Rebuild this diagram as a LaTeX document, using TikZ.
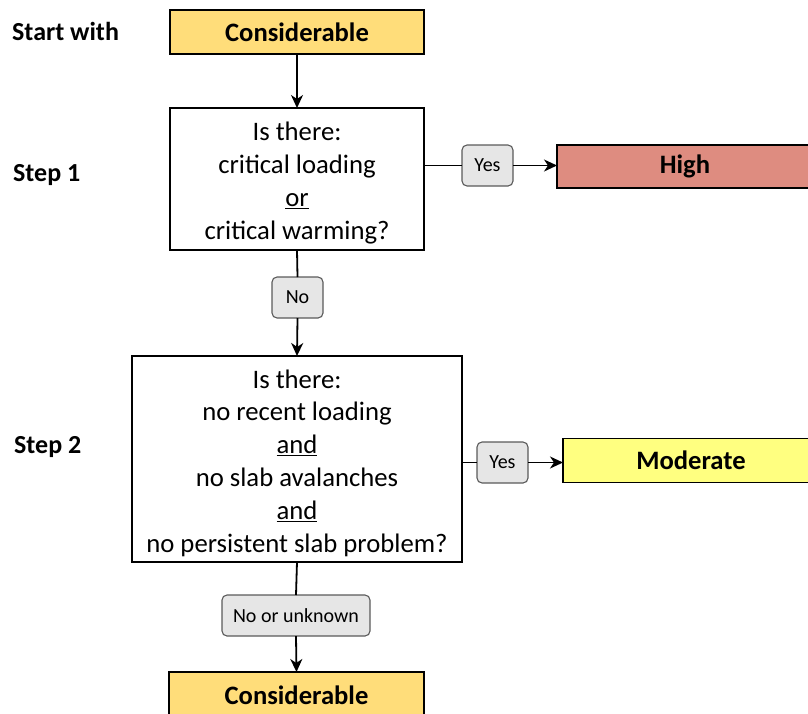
\documentclass[tikz,border=0pt]{standalone}
\usepackage{fontspec}
\setmainfont{Carlito}
\usetikzlibrary{arrows.meta}
\definecolor{considcol}{RGB}{255,221,122}
\definecolor{highcol}{RGB}{222,140,128}
\definecolor{modcol}{RGB}{255,255,128}
\definecolor{lblfill}{RGB}{230,230,230}
\definecolor{lbldraw}{RGB}{90,90,90}
\tikzset{
  box/.style={draw=black, line width=1.8pt, inner sep=0pt, outer sep=0pt, rectangle},
  level/.style={box, font=\fontsize{26.6}{30}\selectfont\bfseries},
  question/.style={box, fill=white},
  qtext/.style={align=center, inner sep=0pt, font=\fontsize{26.7}{32.8}\selectfont},
  lbl/.style={draw=lbldraw, fill=lblfill, rounded corners=5pt, line width=1.1pt,
    minimum height=41pt, inner sep=0pt, outer sep=0pt, font=\fontsize{20}{23}\selectfont},
  steplbl/.style={anchor=base west, inner sep=0pt, font=\fontsize{26}{30}\selectfont\bfseries},
  conn/.style={line width=1.8pt},
  arr/.style={conn, -{Stealth[length=13pt,width=12pt,inset=4pt]}}
}
\begin{document}
\begin{tikzpicture}[x=1pt, y=-1pt]
\useasboundingbox (0,0) rectangle (808,713);
\clip (0,0) rectangle (808,713);

% side labels
\node[steplbl] (startw) at (12,40) {Start with};
\node[steplbl] (step1) at (13,181.5) {Step 1};
\node[steplbl] (step2) at (14,453.5) {Step 2};

% boxes
\node[level, fill=considcol, minimum width=254pt, minimum height=44pt] (cons1) at (297,32) {Considerable};
\node[question, minimum width=254pt, minimum height=142pt] (q1) at (297,179) {};
\node[qtext] (q1t) at (297,183) {Is there:\\critical loading\\\underline{or}\\critical warming?};
\node[level, fill=highcol, minimum width=256pt, minimum height=43pt] (high) at (685,166.5) {High};
\node[question, minimum width=330pt, minimum height=206pt] (q2) at (297,459) {};
\node[qtext] (q2t) at (297,463) {Is there:\\no recent loading\\\underline{and}\\no slab avalanches\\\underline{and}\\no persistent slab problem?};
\node[level, fill=modcol, minimum width=256pt, minimum height=44pt] (mod) at (691,460.5) {Moderate};
\node[level, fill=considcol, minimum width=255pt, minimum height=46pt] (cons2) at (296.5,695) {Considerable};

% branch labels
\node[lbl, minimum width=51pt] (yes1) at (487.5,165.5) {Yes};
\node[lbl, minimum width=51pt] (no1) at (297.5,297.5) {No};
\node[lbl, minimum width=51pt] (yes2) at (502.5,462.5) {Yes};
\node[lbl, minimum width=148pt] (nou) at (296,615.5) {No or unknown};

% connectors
\draw[arr] (cons1.south) -- (q1.north);
\draw[conn] (yes1.west -| q1.east) -- (yes1.west);
\draw[arr] (yes1.east) -- (yes1.east -| high.west);
\draw[conn] (q1.south) -- (no1.north);
\draw[arr] (no1.south) -- (q2.north);
\draw[conn] (yes2.west -| q2.east) -- (yes2.west);
\draw[arr] (yes2.east) -- (yes2.east -| mod.west);
\draw[conn] (q2.south) -- (nou.north);
\draw[arr] (nou.south) -- (cons2.north);
\end{tikzpicture}
\end{document}
